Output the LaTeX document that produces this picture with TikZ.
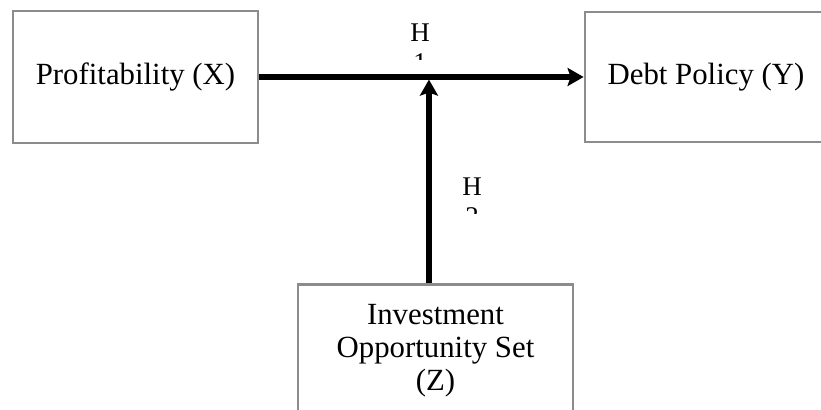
\documentclass[tikz,border=0pt]{standalone}
\usepackage{fontspec}
\setmainfont{Liberation Serif}
\usetikzlibrary{arrows.meta}
\begin{document}
\begin{tikzpicture}[x=0.5pt,y=-0.5pt,
      >={Stealth[length=8pt,width=9pt,inset=1.5pt]},
      box/.style={draw=gray!90,line width=1.4pt,fill=white,inner sep=0pt,
                  align=center,font=\fontsize{15.4}{16.5}\selectfont},
      arrow/.style={->,line width=2.6pt,draw=black},
      hyp/.style={align=center,inner sep=0pt,font=\fontsize{13.5}{15}\selectfont}]
    \useasboundingbox (0,0) rectangle (821,410);
    \node[box,minimum width=122.5pt,minimum height=66pt] (xbox) at (135.5,77) {Profitability (X)};
    \node[box,minimum width=121pt,minimum height=65pt] (ybox) at (706,77) {Debt Policy (Y)};
    \node[box,anchor=north,minimum width=137.5pt,inner ysep=10pt] (zbox) at (435.5,283)
      {Investment\\ Opportunity Set\\ (Z)};
    \draw[arrow] (xbox) -- (ybox);
    \path (xbox.east) -- (ybox.west) coordinate[pos=0.523] (mid);
    \draw[arrow,shorten >=1.3pt] (zbox.north -| mid) -- (mid);
    % hypothesis labels, subscripts cut off by their text boxes
    \begin{scope}
      \clip (380,10) rectangle (460,60);
      \node[hyp,anchor=north] (h1) at (420,23) {H\\ 1};
    \end{scope}
    \begin{scope}
      \clip (432,160) rectangle (512,214);
      \node[hyp,anchor=north] (h2) at (472,177) {H\\ 2};
    \end{scope}
  \end{tikzpicture}
\end{document}
